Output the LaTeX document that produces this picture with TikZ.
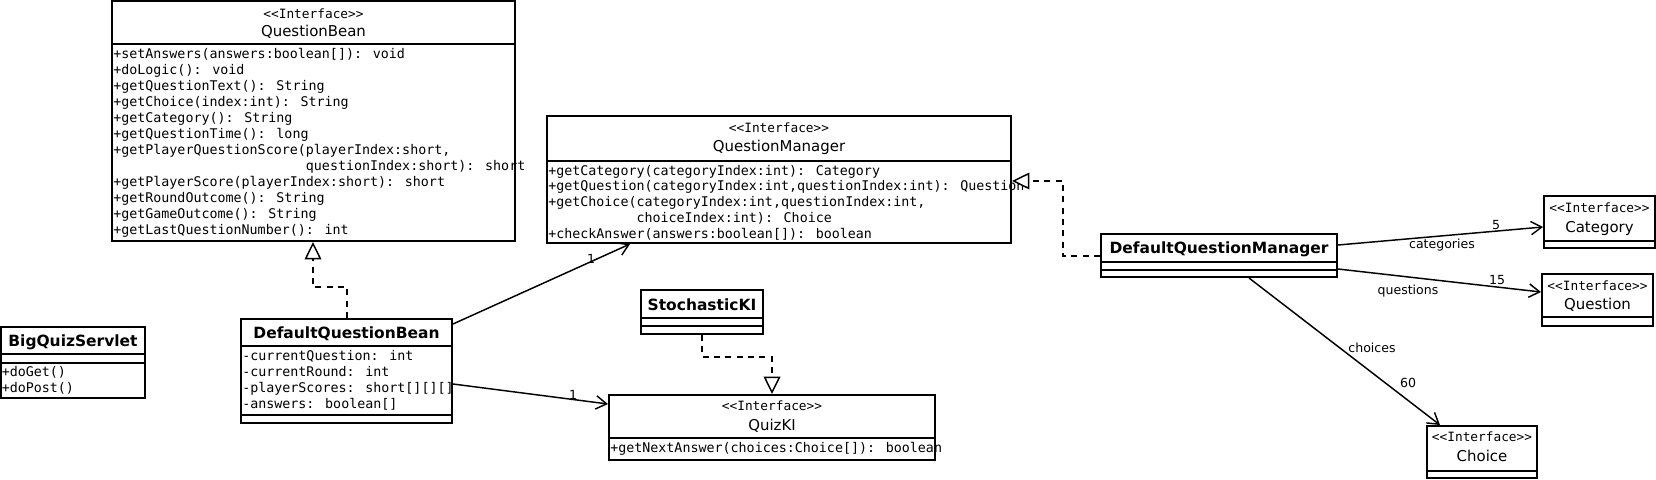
\documentclass[tikz,border=0pt]{standalone}
\usepackage{fontspec}
\setmainfont{DejaVu Sans}
\newfontfamily\monofont{DejaVu Sans Mono}
\usetikzlibrary{arrows.meta,calc,fit}
\tikzset{
  box/.style={draw, line width=1.5pt, inner sep=0pt},
  divider/.style={line width=1.5pt},
  mtxt/.style={anchor=base west, inner sep=0pt, font=\monofont\fontsize{10}{12}\selectfont},
  stereo/.style={anchor=base, inner sep=0pt, font=\monofont\fontsize{9.6}{11}\selectfont},
  iname/.style={anchor=base, inner sep=0pt, font=\fontsize{11.2}{13}\selectfont},
  cname/.style={anchor=base, inner sep=0pt, font=\bfseries\fontsize{11.6}{13}\selectfont},
  lbl/.style={anchor=base, inner sep=0pt, font=\fontsize{9.4}{11}\selectfont},
  assoc/.style={line width=1.1pt, -{Straight Barb[length=8pt,width=10pt,line width=1.1pt]}},
  realize/.style={line width=1.1pt, dash pattern=on 4.5pt off 4pt,
    -{Triangle[open,length=13pt,width=12.5pt,line width=1.1pt,fill=white]}},
}
\begin{document}
\begin{tikzpicture}[x=0.75pt,y=-0.75pt]
\useasboundingbox (0,0) rectangle (1656,479);

% ---------- QuestionBean ----------
\node[box, fit={(112,1)(515,241)}] (qb) {};
\draw[divider] (qb.west |- 0,44) -- (qb.east |- 0,44);
\node[stereo] (qbs) at (313.5,18) {<<Interface>>};
\node[iname] (qbn) at (313.5,36.5) {QuestionBean};
\foreach \t [count=\i from 0] in {
  {+setAnswers(answers:boolean[]): void},
  {+doLogic(): void},
  {+getQuestionText(): String},
  {+getChoice(index:int): String},
  {+getCategory(): String},
  {+getQuestionTime(): long},
  {+getPlayerQuestionScore(playerIndex:short,},
  {\phantom{+getPlayerQuestionScore(}questionIndex:short): short},
  {+getPlayerScore(playerIndex:short): short},
  {+getRoundOutcome(): String},
  {+getGameOutcome(): String},
  {+getLastQuestionNumber(): int}}
  \node[mtxt] (qbm\i) at (113,58.3+16*\i) {\t};

% ---------- BigQuizServlet ----------
\node[box, fit={(1,327)(145,398)}] (bqs) {};
\draw[divider] (bqs.west |- 0,354) -- (bqs.east |- 0,354);
\draw[divider] (bqs.west |- 0,363) -- (bqs.east |- 0,363);
\node[cname] (bqsn) at (73,346) {BigQuizServlet};
\node[mtxt] (bqsm1) at (1.5,376) {+doGet()};
\node[mtxt] (bqsm2) at (1.5,392) {+doPost()};

% ---------- DefaultQuestionBean ----------
\node[box, fit={(241,319)(452,423)}] (dqb) {};
\draw[divider] (dqb.west |- 0,346) -- (dqb.east |- 0,346);
\draw[divider] (dqb.west |- 0,415) -- (dqb.east |- 0,415);
\node[cname] (dqbn) at (346.5,338) {DefaultQuestionBean};
\foreach \t [count=\i from 0] in {
  {-currentQuestion: int},
  {-currentRound: int},
  {-playerScores: short[][][]},
  {-answers: boolean[]}}
  \node[mtxt] (dqba\i) at (242,360.5+16*\i) {\t};

% ---------- QuestionManager ----------
\node[box, fit={(547,116)(1011,243)}] (qm) {};
\draw[divider] (qm.west |- 0,161) -- (qm.east |- 0,161);
\node[stereo] (qms) at (779,132) {<<Interface>>};
\node[iname] (qmn) at (779,151) {QuestionManager};
\foreach \t [count=\i from 0] in {
  {+getCategory(categoryIndex:int): Category},
  {+getQuestion(categoryIndex:int,questionIndex:int): Question},
  {+getChoice(categoryIndex:int,questionIndex:int,},
  {\phantom{+getChoice(}choiceIndex:int): Choice},
  {+checkAnswer(answers:boolean[]): boolean}}
  \node[mtxt] (qmm\i) at (548,175+15.9*\i) {\t};

% ---------- StochasticKI ----------
\node[box, fit={(641,290)(763,334)}] (ski) {};
\draw[divider] (ski.west |- 0,318) -- (ski.east |- 0,318);
\draw[divider] (ski.west |- 0,326) -- (ski.east |- 0,326);
\node[cname] (skin) at (702,310) {StochasticKI};

% ---------- QuizKI ----------
\node[box, fit={(609,395)(935,460)}] (qki) {};
\draw[divider] (qki.west |- 0,438) -- (qki.east |- 0,438);
\node[stereo] (qkis) at (772,410) {<<Interface>>};
\node[iname] (qkin) at (772,430) {QuizKI};
\node[mtxt] (qkim) at (610,452) {+getNextAnswer(choices:Choice[]): boolean};

% ---------- DefaultQuestionManager ----------
\node[box, fit={(1101,234)(1337,277)}] (dqm) {};
\draw[divider] (dqm.west |- 0,262) -- (dqm.east |- 0,262);
\draw[divider] (dqm.west |- 0,270) -- (dqm.east |- 0,270);
\node[cname] (dqmn) at (1219,253) {DefaultQuestionManager};

% ---------- Category ----------
\node[box, fit={(1544,196)(1655,248)}] (cat) {};
\draw[divider] (cat.west |- 0,241) -- (cat.east |- 0,241);
\node[stereo] (cats) at (1599.5,212) {<<Interface>>};
\node[iname] (catn) at (1599.5,232) {Category};

% ---------- Question ----------
\node[box, fit={(1542,274)(1653,326)}] (que) {};
\draw[divider] (que.west |- 0,317) -- (que.east |- 0,317);
\node[stereo] (ques) at (1597.5,290) {<<Interface>>};
\node[iname] (quen) at (1597.5,309) {Question};

% ---------- Choice ----------
\node[box, fit={(1427,426)(1537,478)}] (cho) {};
\draw[divider] (cho.west |- 0,471) -- (cho.east |- 0,471);
\node[stereo] (chos) at (1482,441) {<<Interface>>};
\node[iname] (chon) at (1482,461) {Choice};

% ---------- realizations ----------
\draw[realize] (dqb.north -| 347,0) -- (347,287) -- (313,287) -- (qb.south -| 313,0);
\draw[realize] (ski.south -| 702,0) -- (702,357) -- (772,357) -- (qki.north -| 772,0);
\draw[realize] (dqm.west |- 0,256) -- (1063,256) -- (1063,181) -- (qm.east |- 0,181);

% ---------- associations ----------
\draw[assoc] (dqb.east |- 0,324) -- (qm.south -| 630,0);
\node[lbl] (l1) at (591,263) {1};
\draw[assoc] (dqb.east |- 0,384) -- (qki.west |- 0,404);
\node[lbl] (l2) at (573,399) {1};
\draw[assoc] (dqm.east |- 0,245) -- (cat.west |- 0,227);
\node[lbl] (l3) at (1496,229) {5};
\node[lbl] (l4) at (1442,248) {categories};
\draw[assoc] (dqm.east |- 0,269) -- (que.west |- 0,292);
\node[lbl] (l5) at (1497,284) {15};
\node[lbl] (l6) at (1408,294) {questions};
\draw[assoc] (dqm.south -| 1249,0) -- (cho.north -| 1440,0);
\node[lbl] (l7) at (1372,352) {choices};
\node[lbl] (l8) at (1408,387) {60};
\end{tikzpicture}
\end{document}
